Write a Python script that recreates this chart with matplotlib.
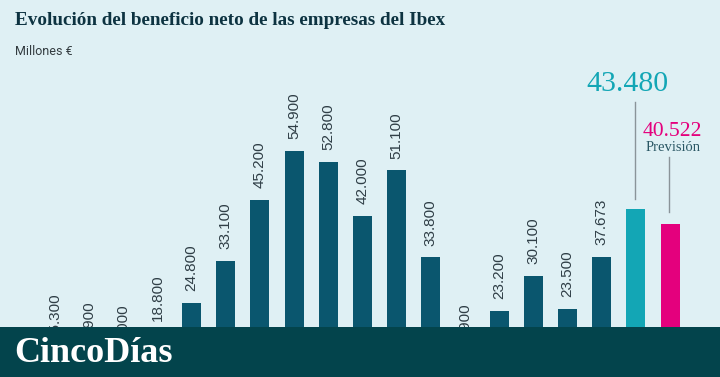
import matplotlib.pyplot as plt
import matplotlib.patches as mpt
from matplotlib.transforms import Bbox

# ------------------------------------------------------------------ DATA
# bar heights as drawn (millones de euros), labels as printed
heights = [15300, 13600, 13000, 18800, 24800, 33100, 45200, 54900, 52800,
           42000, 51100, 33800, 13300, 23200, 30100, 23500, 33900, 43480, 40522]
labels = ['15.300', '13.900', '13.000', '18.800', '24.800', '33.100', '45.200',
          '54.900', '52.800', '42.000', '51.100', '33.800', '12.900', '23.200',
          '30.100', '23.500', '37.673', '43.480', '40.522']
title = 'Evolución del beneficio neto de las empresas del Ibex'
subtitle = 'Millones €'
forecast_note = 'Previsión'
brand = 'CincoDías'

# ---------------------------------------------------------------- STYLES
bg = '#dff0f4'
dark = '#0a566e'
teal = '#13a6b5'
pink = '#e4007d'
banner = '#03444c'
txt = '#2f3e46'
lead = '#8a9499'

W, H = 720, 377
BANNER_H = 50.3
PX = 5.03 / 1000  # pixels per million on the original

fig = plt.figure(figsize=(W / 100, H / 100), dpi=100, facecolor=bg)

# axes placed so that the baseline sits below the banner, like the original crop
ax = fig.add_axes([20.8 / W, -50.5 / H, 683.4 / W, 301.8 / H])
ax.set_facecolor(bg)
ax.set_xlim(-1, 19)
ax.set_ylim(0, 60000)
ax.axis('off')

n = len(heights)
cols = [dark] * (n - 2) + [teal, pink]
x = list(range(n))
ax.bar(x, heights, width=0.556, color=cols, edgecolor='none', zorder=2)

# value labels are cut where the banner starts
above_banner = Bbox.from_extents(0, BANNER_H, W, H)
for i in range(n - 2):
    t = ax.annotate(labels[i], xy=(i, heights[i]), xytext=(0, 8.6),
                    textcoords='offset points', rotation=90, ha='center',
                    va='bottom', fontsize=11, family='Liberation Sans',
                    color=txt, annotation_clip=False)
    t.set_clip_box(above_banner)
    t.set_clip_on(True)

# last two bars: big horizontal labels with leader lines
i = n - 2
ax.plot([i - 0.02, i - 0.02], [heights[i] + 10 / PX, heights[i] + 107 / PX],
        color=lead, lw=1.0, clip_on=False)
ax.annotate(labels[i], xy=(i, heights[i]), xytext=(-6, 84.5),
            textcoords='offset points', ha='center', va='baseline',
            fontsize=21.5, family='Liberation Serif', color=teal,
            annotation_clip=False)

i = n - 1
ax.plot([i - 0.02, i - 0.02], [heights[i] + 12 / PX, heights[i] + 67 / PX],
        color=lead, lw=1.0, clip_on=False)
ax.annotate(labels[i], xy=(i, heights[i]), xytext=(2, 63),
            textcoords='offset points', ha='center', va='baseline',
            fontsize=15.6, family='Liberation Serif', color=pink,
            annotation_clip=False)
ax.annotate(forecast_note, xy=(i, heights[i]), xytext=(2, 52),
            textcoords='offset points', ha='center', va='baseline',
            fontsize=10.5, family='Liberation Serif', color='#2a5764',
            annotation_clip=False)

# ---------------------------------------------------------------- TEXTS
fig.text(15 / W, 1 - 25 / H, title, ha='left', va='baseline', fontsize=13.8,
         family='Liberation Serif', weight='bold', color='#0d3341')
fig.text(15 / W, 1 - 55 / H, subtitle, ha='left', va='baseline', fontsize=9,
         family='Roboto', color='#333c40')

# bottom banner
fig.add_artist(mpt.Rectangle((0, 0), 1, BANNER_H / H, transform=fig.transFigure,
                             facecolor=banner, edgecolor='none', zorder=5))
fig.text(14 / W, 15.3 / H, brand, ha='left', va='baseline', fontsize=26,
         family='Liberation Serif', weight='bold', color='white', zorder=6)

fig.savefig('out.png', dpi=100, facecolor=bg)
